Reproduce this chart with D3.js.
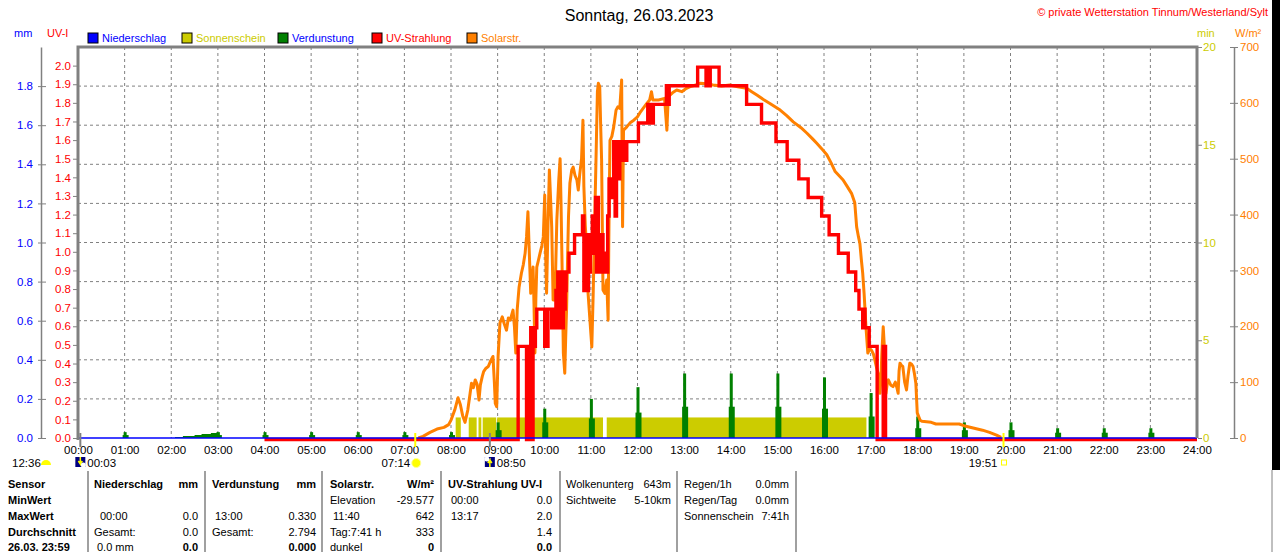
<!DOCTYPE html>
<html>
<head>
<meta charset="utf-8">
<script src="https://cdn.jsdelivr.net/npm/d3@7"></script>
<style>
  body { margin: 0; background: #fff; }
  svg { display: block; font-family: "Liberation Sans", Arial, sans-serif; }
</style>
</head>
<body>
<svg id="chart" width="1280" height="552"></svg>
<script>
// ---- data ----
// solar radiation W/m2 : [hour, value]
const solar = [[7.30,0],[7.40,3],[7.55,10],[7.70,16],[7.85,19],[7.95,24],[8.00,32],[8.08,50],[8.15,72],[8.20,60],[8.25,40],[8.30,28],[8.36,50],[8.41,80],[8.44,98],[8.48,90],[8.52,104],[8.56,96],[8.60,68],[8.63,95],[8.67,110],[8.70,119],[8.75,125],[8.80,128],[8.85,138],[8.90,146],[8.93,100],[8.95,62],[8.98,56],[9.01,146],[9.05,206],[9.10,217],[9.14,205],[9.19,193],[9.23,215],[9.27,211],[9.33,229],[9.36,200],[9.39,152],[9.42,230],[9.46,270],[9.51,295],[9.55,310],[9.59,331],[9.62,360],[9.65,405],[9.68,330],[9.71,259],[9.74,280],[9.76,306],[9.78,240],[9.80,152],[9.82,250],[9.84,306],[9.88,320],[9.91,331],[9.95,345],[9.98,360],[10.01,435],[10.03,330],[10.05,259],[10.08,380],[10.11,480],[10.14,420],[10.16,378],[10.19,247],[10.23,247],[10.25,320],[10.27,390],[10.31,460],[10.34,500],[10.36,420],[10.38,319],[10.41,152],[10.44,116],[10.46,180],[10.48,234],[10.50,320],[10.52,396],[10.55,456],[10.59,480],[10.62,485],[10.66,470],[10.70,462],[10.73,444],[10.76,471],[10.80,500],[10.83,569],[10.85,450],[10.88,380],[10.91,342],[10.94,259],[10.98,211],[11.02,163],[11.05,259],[11.09,420],[11.12,539],[11.14,620],[11.16,635],[11.19,629],[11.21,560],[11.23,498],[11.26,265],[11.30,259],[11.34,283],[11.37,211],[11.39,400],[11.41,533],[11.45,540],[11.49,557],[11.54,587],[11.58,593],[11.62,590],[11.66,641],[11.68,378],[11.70,551],[11.77,557],[11.85,565],[11.92,569],[12.00,575],[12.05,582],[12.12,590],[12.20,599],[12.26,605],[12.30,620],[12.33,605],[12.45,605],[12.58,608],[12.63,551],[12.66,611],[12.75,618],[12.84,623],[12.95,620],[13.05,626],[13.13,629],[13.25,632],[13.34,635],[13.50,634],[13.62,632],[13.80,630],[13.98,632],[14.15,629],[14.34,626],[14.45,620],[14.56,614],[14.70,606],[14.84,599],[14.95,593],[15.06,587],[15.20,577],[15.34,566],[15.50,556],[15.63,546],[15.75,536],[15.84,528],[15.95,518],[16.06,507],[16.15,493],[16.24,477],[16.33,469],[16.41,462],[16.50,450],[16.59,438],[16.66,421],[16.70,378],[16.74,360],[16.77,348],[16.80,320],[16.83,295],[16.86,259],[16.90,199],[16.94,152],[16.98,160],[17.02,157],[17.06,150],[17.09,140],[17.13,125],[17.16,116],[17.20,80],[17.22,104],[17.24,150],[17.27,199],[17.29,170],[17.31,100],[17.33,80],[17.36,100],[17.38,104],[17.43,95],[17.48,92],[17.53,100],[17.57,88],[17.59,80],[17.61,120],[17.63,134],[17.66,130],[17.69,128],[17.73,100],[17.77,86],[17.80,110],[17.84,134],[17.88,132],[17.91,128],[17.94,115],[17.97,98],[18.00,45],[18.06,32],[18.10,30],[18.30,28],[18.40,25],[18.90,25],[19.00,22],[19.20,18],[19.40,14],[19.55,10],[19.70,5],[19.80,1]];

// UV index, step values : [hour, value held until next point]
const uv = [[4.00,0],[9.44,0.5],[9.62,0],[9.66,0.5],[9.68,0],[9.71,0.6],[9.73,0],[9.76,0.6],[9.78,0.5],[9.81,0.6],[9.84,0.7],[10.01,0.5],[10.04,0.7],[10.06,0.5],[10.08,0.7],[10.16,0.6],[10.19,0.7],[10.23,0.6],[10.25,0.8],[10.27,0.6],[10.29,0.9],[10.31,0.7],[10.33,0.9],[10.35,0.6],[10.37,0.8],[10.39,0.6],[10.41,0.9],[10.43,0.7],[10.45,0.8],[10.47,0.9],[10.53,1.0],[10.65,1.1],[10.82,1.2],[10.85,0.8],[10.87,1.1],[10.89,0.8],[10.91,1.0],[10.93,0.8],[10.95,1.1],[10.97,0.9],[10.99,1.1],[11.01,1.0],[11.03,1.2],[11.05,1.0],[11.07,1.1],[11.10,1.3],[11.12,0.9],[11.14,1.3],[11.16,1.0],[11.18,1.1],[11.20,0.9],[11.23,1.1],[11.26,0.9],[11.29,1.0],[11.32,0.9],[11.36,1.2],[11.39,1.4],[11.42,1.3],[11.44,1.4],[11.47,1.3],[11.49,1.6],[11.52,1.2],[11.55,1.5],[11.57,1.6],[11.59,1.4],[11.62,1.6],[11.65,1.5],[11.70,1.6],[11.74,1.5],[11.77,1.6],[12.02,1.7],[12.22,1.8],[12.25,1.7],[12.28,1.8],[12.31,1.7],[12.34,1.8],[12.62,1.9],[12.65,1.8],[12.68,1.9],[13.29,2.0],[13.47,1.9],[13.50,2.0],[13.53,1.9],[13.56,2.0],[13.75,1.9],[14.34,1.8],[14.66,1.7],[14.97,1.6],[15.21,1.5],[15.46,1.4],[15.66,1.3],[15.95,1.2],[16.11,1.1],[16.31,1.0],[16.52,0.9],[16.68,0.8],[16.75,0.7],[16.83,0.6],[16.86,0.7],[16.88,0.6],[16.97,0.5],[17.14,0],[17.27,0.5],[17.32,0],[24.00,0]];

// sunshine (min per minute), sunny intervals in hours
const sunStart = [8.10, 8.38, 8.59, 8.68, 8.99, 11.34];
const sunEnd   = [8.21, 8.55, 8.65, 8.97, 11.26, 16.91];
const sunValue = 1;

// evaporation mm, hourly spikes
const evapHours    = [0,1,2,3,4,5,6,7,8,9,10,11,12,13,14,15,16,17,18,19,20,21,22,23];
const evapPeak     = [0,0.03,0,0.03,0.03,0.03,0.03,0.03,0.03,0.08,0.15,0.20,0.26,0.33,0.33,0.33,0.31,0.23,0.11,0.08,0.08,0.05,0.05,0.05];
const evapShoulder = [0,0.015,0,0.015,0.015,0.015,0.015,0.015,0.015,0.04,0.08,0.10,0.13,0.16,0.16,0.16,0.15,0.11,0.05,0.04,0.04,0.027,0.027,0.027];
const evapRamp = [[2.08,0.005],[2.25,0.01],[2.50,0.015],[2.65,0.02],[2.85,0.025],[2.97,0.03],[3.0,0]];

// precipitation mm (none all day)
const rain = [[0,0],[24,0]];

// axes ticks
const hourTicks = [0,1,2,3,4,5,6,7,8,9,10,11,12,13,14,15,16,17,18,19,20,21,22,23,24];
const mmTicks = [0,0.2,0.4,0.6,0.8,1.0,1.2,1.4,1.6,1.8];
const uvTicks = [0,0.1,0.2,0.3,0.4,0.5,0.6,0.7,0.8,0.9,1.0,1.1,1.2,1.3,1.4,1.5,1.6,1.7,1.8,1.9,2.0];
const minTicks = [0,5,10,15,20];
const solTicks = [0,100,200,300,400,500,600,700];

// sun / moon events
const eventTimes  = [0.05, 7.2333, 8.8333, 19.85];
const eventLabels = ["00:03", "07:14", "08:50", "19:51"];
const eventKind   = ["moonrise", "sunrise", "moonset", "sunset"];

const legendNames  = ["Niederschlag", "Sonnenschein", "Verdunstung", "UV-Strahlung", "Solarstr."];
const legendFill   = ["#0000ff", "#cccc00", "#008000", "#ff0000", "#ff8000"];
const legendText   = ["#0000ff", "#cccc00", "#0000ff", "#ff0000", "#ff8000"];

// stats table
const tableRows = ["Sensor", "MinWert", "MaxWert", "Durchschnitt", "26.03. 23:59"];
const colNieder = [["Niederschlag", "mm"], ["", ""], ["  00:00", "0.0"], ["Gesamt:", "0.0"], [" 0.0 mm", "0.0"]];
const colVerd   = [["Verdunstung", "mm"], ["", ""], [" 13:00", "0.330"], ["Gesamt:", "2.794"], ["", "0.000"]];
const colSolar  = [["Solarstr.", "W/m²"], ["Elevation", "-29.577"], [" 11:40", "642"], ["Tag:7:41 h", "333"], ["dunkel", "0"]];
const colUV     = [["UV-Strahlung UV-I", ""], [" 00:00", "0.0"], [" 13:17", "2.0"], ["", "1.4"], ["", "0.0"]];
const colCloud  = [["Wolkenunterg", "643m"], ["Sichtweite", "5-10km"]];
const colRain   = [["Regen/1h", "0.0mm"], ["Regen/Tag", "0.0mm"], ["Sonnenschein", "7:41h"]];

// ---- scales ----
const svg = d3.select("#chart");
const grey = "#808080";

const x = d3.scaleLinear().domain([0, 24]).range([78, 1197]);
const yMM = d3.scaleLinear().domain([0, 2.0]).range([438, 47]);
const yUV = d3.scaleLinear().domain([0, 2.1]).range([438, 47]);
const yMin = d3.scaleLinear().domain([0, 20]).range([438, 47]);
const ySol = d3.scaleLinear().domain([0, 700]).range([438, 47]);

// black strip on the right edge
svg.append("rect").attr("x", 1272).attr("y", 0).attr("width", 8).attr("height", 470).attr("fill", "#000");
svg.append("line").attr("x1", 1272).attr("x2", 1272).attr("y1", 470).attr("y2", 552).attr("stroke", grey);

// title & copyright
svg.append("text").attr("x", 639).attr("y", 21).attr("text-anchor", "middle")
  .attr("font-size", 16).text("Sonntag, 26.03.2023");
svg.append("text").attr("x", 1268).attr("y", 16).attr("text-anchor", "end")
  .attr("font-size", 11).attr("fill", "#ff0000").text("© private Wetterstation Tinnum/Westerland/Sylt");

// unit labels
const unit = (tx, ty, t, c) => svg.append("text").attr("x", tx).attr("y", ty).attr("font-size", 11).attr("fill", c).text(t);
unit(14, 37, "mm", "#0000ff");
unit(47, 37, "UV-I", "#ff0000");
unit(1197, 37, "min", "#cccc00");
unit(1235, 37, "W/m²", "#ff8000");

// legend
const legendX = [88, 182, 278, 372, 467];
legendNames.forEach((n, i) => {
  svg.append("rect").attr("x", legendX[i]).attr("y", 33).attr("width", 10).attr("height", 10)
    .attr("fill", legendFill[i]).attr("stroke", "#000");
  svg.append("text").attr("x", legendX[i] + 14).attr("y", 42).attr("font-size", 11)
    .attr("fill", legendText[i]).text(n);
});

// grid
const grid = svg.append("g").attr("stroke", grey).attr("stroke-dasharray", "3,3").attr("stroke-width", 1);
hourTicks.slice(1, -1).forEach(h => {
  grid.append("line").attr("x1", x(h)).attr("x2", x(h)).attr("y1", yMM(2)).attr("y2", yMM(0));
});
mmTicks.slice(1).forEach(v => {
  grid.append("line").attr("x1", x(0)).attr("x2", x(24)).attr("y1", yMM(v)).attr("y2", yMM(v));
});

// sunshine bars
svg.append("g").selectAll("rect").data(sunStart).join("rect")
  .attr("x", (d, i) => x(d)).attr("width", (d, i) => x(sunEnd[i]) - x(d))
  .attr("y", yMin(sunValue) - 1).attr("height", yMin(0) - yMin(sunValue) + 1)
  .attr("fill", "#cccc00");

// evaporation
const ev = svg.append("g").attr("fill", "#008000");
ev.append("path").datum(evapRamp)
  .attr("d", d3.area().x(d => x(d[0])).y0(yMM(0)).y1(d => yMM(d[1])).curve(d3.curveStepAfter));
evapHours.forEach((h, i) => {
  if (evapPeak[i] <= 0) return;
  ev.append("rect").attr("x", x(h) - 2).attr("width", 6)
    .attr("y", yMM(evapShoulder[i])).attr("height", yMM(0) - yMM(evapShoulder[i]));
  ev.append("rect").attr("x", x(h) - 1).attr("width", 3)
    .attr("y", yMM(evapPeak[i])).attr("height", yMM(0) - yMM(evapPeak[i]));
});

// solar radiation
svg.append("path").datum(solar)
  .attr("d", d3.line().x(d => x(d[0])).y(d => ySol(d[1])))
  .attr("fill", "none").attr("stroke", "#ff8000").attr("stroke-width", 3).attr("stroke-linejoin", "round");

// UV
svg.append("path").datum(uv)
  .attr("d", d3.line().x(d => x(d[0])).y(d => yUV(d[1])).curve(d3.curveStepAfter))
  .attr("transform", "translate(0,1.5)")
  .attr("fill", "none").attr("stroke", "#ff0000").attr("stroke-width", 3.4);

// precipitation
svg.append("path").datum(rain)
  .attr("d", d3.line().x(d => x(d[0])).y(d => yMM(d[1])))
  .attr("fill", "none").attr("stroke", "#0000ff").attr("stroke-width", 1.3);

// frame
svg.append("path")
  .attr("d", `M${x(0)},${yMM(0) + 2}V${yMM(2)}H${x(24)}V${yMM(0)}`)
  .attr("fill", "none").attr("stroke", grey).attr("stroke-width", 3);

// axes
const styleAxis = (g, color) => {
  g.select(".domain").attr("stroke", grey).attr("stroke-width", 1.5);
  g.selectAll(".tick line").attr("stroke", grey);
  g.selectAll(".tick text").attr("fill", color).attr("font-size", 11.5)
    .attr("font-family", "Liberation Sans, Arial, sans-serif");
};

svg.append("g").attr("transform", "translate(41,0)")
  .call(d3.axisLeft(yMM).tickValues(mmTicks).tickFormat(d3.format(".1f")).tickSize(5).tickSizeOuter(0))
  .call(g => { styleAxis(g, "#0000ff"); g.selectAll(".tick line").attr("x1", 5).attr("x2", -3); });

svg.append("g").attr("transform", `translate(${x(0) - 1},0)`)
  .call(d3.axisLeft(yUV).tickValues(uvTicks).tickFormat(d3.format(".1f")).tickSize(4).tickSizeOuter(0))
  .call(g => { styleAxis(g, "#ff0000"); g.select(".domain").remove(); g.selectAll(".tick text").attr("x", -6); });

svg.append("g").attr("transform", `translate(${x(24) + 1},0)`)
  .call(d3.axisRight(yMin).tickValues(minTicks).tickSize(4).tickSizeOuter(0))
  .call(g => { styleAxis(g, "#cccc00"); g.select(".domain").remove(); g.selectAll(".tick text").attr("x", 5); });

svg.append("g").attr("transform", "translate(1234,0)")
  .call(d3.axisRight(ySol).tickValues(solTicks).tickSize(4).tickSizeOuter(0))
  .call(g => { styleAxis(g, "#ff8000"); g.selectAll(".tick line").attr("x1", -4).attr("x2", 4); g.selectAll(".tick text").attr("x", 6); });

svg.append("g").attr("transform", `translate(0,${yMM(0)})`)
  .call(d3.axisBottom(x).tickValues(hourTicks).tickSize(0).tickSizeOuter(0)
    .tickFormat(h => String(h).padStart(2, "0") + ":00"))
  .call(g => { g.select(".domain").remove(); g.selectAll(".tick text").attr("fill", "#000").attr("font-size", 11.5).attr("y", 8); });

// sun / moon markers
eventTimes.forEach((t, i) => {
  const k = eventKind[i];
  const sun = k.startsWith("sun");
  svg.append("line").attr("x1", x(t)).attr("x2", x(t)).attr("y1", 433).attr("y2", 447)
    .attr("stroke", sun ? "#ffff00" : grey).attr("stroke-width", 2);
  const ly = 467;
  if (k === "sunrise") {
    svg.append("text").attr("x", x(t) - 5).attr("y", ly).attr("text-anchor", "end").attr("font-size", 11.5).text(eventLabels[i]);
    svg.append("circle").attr("cx", x(t) + 1).attr("cy", ly - 4).attr("r", 4.5).attr("fill", "#ffff00").attr("stroke", "#ffff99");
  } else if (k === "sunset") {
    svg.append("text").attr("x", x(t) - 6).attr("y", ly).attr("text-anchor", "end").attr("font-size", 11.5).text(eventLabels[i]);
    svg.append("rect").attr("x", x(t) - 2).attr("y", ly - 7).attr("width", 5).attr("height", 5).attr("fill", "none").attr("stroke", "#ffff00");
  } else {
    svg.append("rect").attr("x", x(t) - 5).attr("y", ly - 10).attr("width", 10).attr("height", 10).attr("fill", "#000080");
    svg.append("path").attr("d", k === "moonrise"
        ? `M${x(t)},${ly - 10}v7l-2,-3m2,3l2,-3`
        : `M${x(t)},${ly}v-7l-2,3m2,-3l2,3`)
      .attr("stroke", "#ffff00").attr("stroke-width", 1.5).attr("fill", "none");
    svg.append("circle").attr("cx", x(t) + (k === "moonrise" ? 3 : -3)).attr("cy", k === "moonrise" ? ly - 2 : ly - 8)
      .attr("r", 2.5).attr("fill", "#ffffff");
    svg.append("text").attr("x", x(t) + 7).attr("y", ly).attr("font-size", 11.5).text(eventLabels[i]);
  }
});
// moon phase at left
svg.append("text").attr("x", 12).attr("y", 467).attr("font-size", 11.5).text("12:36");
svg.append("path").attr("d", "M41,465a5,5 0 0 1 10,0z").attr("fill", "#ffff00");

// ---- table ----
const tab = svg.append("g").attr("font-size", 11);
const rowY = [488, 504, 520, 536, 551];
[88, 205, 322, 441, 560, 677, 796].forEach(sx => {
  tab.append("line").attr("x1", sx).attr("x2", sx).attr("y1", 471).attr("y2", 552).attr("stroke", grey).attr("stroke-width", 1.5);
});
tableRows.forEach((r, i) => {
  tab.append("text").attr("x", 8).attr("y", rowY[i]).attr("font-weight", "bold").text(r);
});
// left text (leading spaces = small indent) and right-aligned value per row
const putCol = (col, left, right) => {
  col.forEach((c, i) => {
    const indent = c[0].length - c[0].trimStart().length;
    const bold = (i === 0 || i === 4) ? "bold" : "normal";
    tab.append("text").attr("x", left + indent * 3).attr("y", rowY[i])
      .attr("font-weight", i === 0 ? "bold" : "normal").text(c[0].trim());
    tab.append("text").attr("x", right).attr("y", rowY[i]).attr("text-anchor", "end")
      .attr("font-weight", bold).text(c[1]);
  });
};
putCol(colNieder, 94, 198);
putCol(colVerd, 212, 316);
putCol(colSolar, 330, 434);
putCol(colUV, 448, 552);
colCloud.forEach((c, i) => {
  tab.append("text").attr("x", 566).attr("y", rowY[i]).text(c[0]);
  tab.append("text").attr("x", 671).attr("y", rowY[i]).attr("text-anchor", "end").text(c[1]);
});
colRain.forEach((c, i) => {
  tab.append("text").attr("x", 684).attr("y", rowY[i]).text(c[0]);
  tab.append("text").attr("x", 789).attr("y", rowY[i]).attr("text-anchor", "end").text(c[1]);
});
</script>
</body>
</html>
